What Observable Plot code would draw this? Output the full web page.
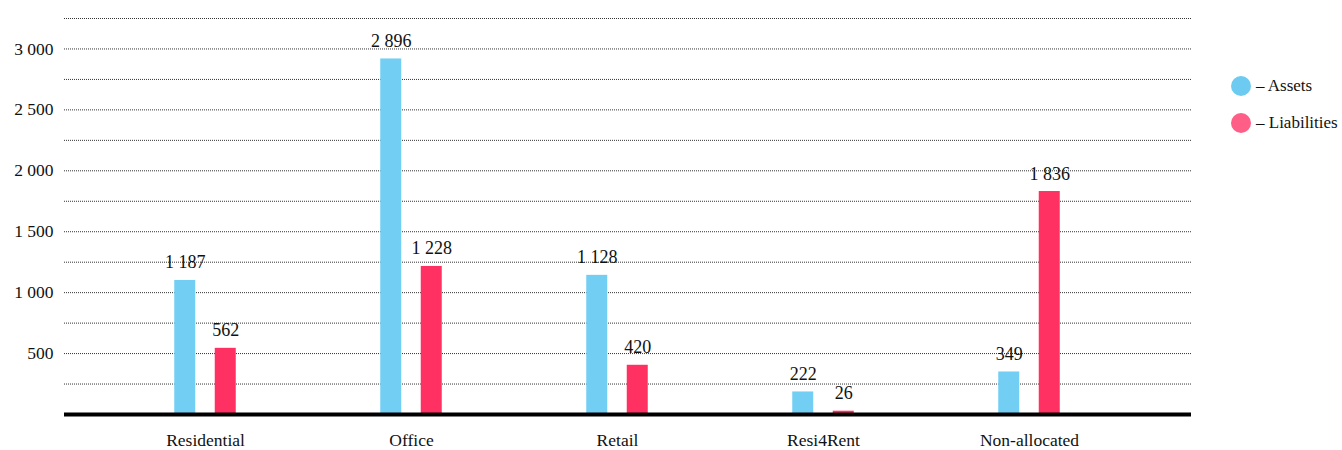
<!DOCTYPE html>
<html>
<head>
<meta charset="utf-8">
<script src="https://cdn.jsdelivr.net/npm/d3@7"></script>
<script src="https://cdn.jsdelivr.net/npm/@observablehq/plot@0.6"></script>
<style>
  html, body { margin: 0; padding: 0; background: #fff; }
  #wrap { position: relative; width: 1342px; height: 450px; font-family: "Liberation Serif", serif; }
  #wrap svg, #wrap svg text, #wrap svg g { font-family: "Liberation Serif", serif !important; }
  #legend { position: absolute; left: 1231px; top: 76px; font-size: 17px; color: #111; }
  .item { display: flex; align-items: center; height: 20px; margin-bottom: 16.5px; }
  .sw { width: 20px; height: 20px; border-radius: 50%; margin-right: 5px; }
</style>
</head>
<body>
<div id="wrap"><div id="legend"></div></div>
<script>
const categories = ["Residential", "Office", "Retail", "Resi4Rent", "Non-allocated"];
const assets = [1100, 2918, 1142, 185, 349];
const liabilities = [543, 1215, 404, 27, 1830];
const assetLabels = ["1 187", "2 896", "1 128", "222", "349"];
const liabilityLabels = ["562", "1 228", "420", "26", "1 836"];
const seriesNames = ["– Assets", "– Liabilities"];
const yTicks = [500, 1000, 1500, 2000, 2500, 3000];
const gridValues = [250, 500, 750, 1000, 1250, 1500, 1750, 2000, 2250, 2500, 2750, 3000, 3250];

const colors = {assets: "#73CEF3", liabilities: "#FF3162"};
const legendColors = ["#6DCBF1", "#FF5E86"];

const assetData = categories.map((c, i) => ({category: c, value: assets[i], label: assetLabels[i]}));
const liabData = categories.map((c, i) => ({category: c, value: liabilities[i], label: liabilityLabels[i]}));

const fmt = d => d3.format(",")(d).replace(/,/g, " ");

const chart = Plot.plot({
  width: 1342,
  height: 450,
  marginLeft: 64,
  marginRight: 151,
  marginTop: 18,
  marginBottom: 36,
  style: {fontFamily: "Liberation Serif", fontSize: "17.5px", color: "#111", background: "transparent", overflow: "visible"},
  x: {type: "band", domain: categories, paddingInner: 0, paddingOuter: 0.2288, align: 0.394, label: null, tickSize: 0, tickPadding: 19},
  y: {domain: [0, 3250], ticks: yTicks, tickFormat: fmt, label: null, tickSize: 0, tickPadding: 11},
  marks: [
    Plot.ruleY(gridValues, {stroke: "#333", strokeWidth: 1, strokeDasharray: "1,1"}),
    Plot.barY(assetData, {x: "category", y: "value", fill: colors.assets, insetLeft: 72.25, insetRight: 112.75}),
    Plot.barY(liabData, {x: "category", y: "value", fill: colors.liabilities, insetLeft: 112.75, insetRight: 72.25}),
    Plot.text(assetData, {x: "category", y: "value", text: "label", dx: -20.25, dy: -12, lineAnchor: "bottom", fontSize: 18, fill: "#111"}),
    Plot.text(liabData, {x: "category", y: "value", text: "label", dx: 20.25, dy: -12, lineAnchor: "bottom", fontSize: 18, fill: "#111"}),
    Plot.ruleY([0], {stroke: "#000", strokeWidth: 4})
  ]
});
document.getElementById("wrap").prepend(chart);

const legend = document.getElementById("legend");
seriesNames.forEach((name, i) => {
  const item = document.createElement("div");
  item.className = "item";
  const sw = document.createElement("div");
  sw.className = "sw";
  sw.style.background = legendColors[i];
  const t = document.createElement("span");
  t.textContent = name;
  item.appendChild(sw);
  item.appendChild(t);
  legend.appendChild(item);
});
</script>
</body>
</html>
